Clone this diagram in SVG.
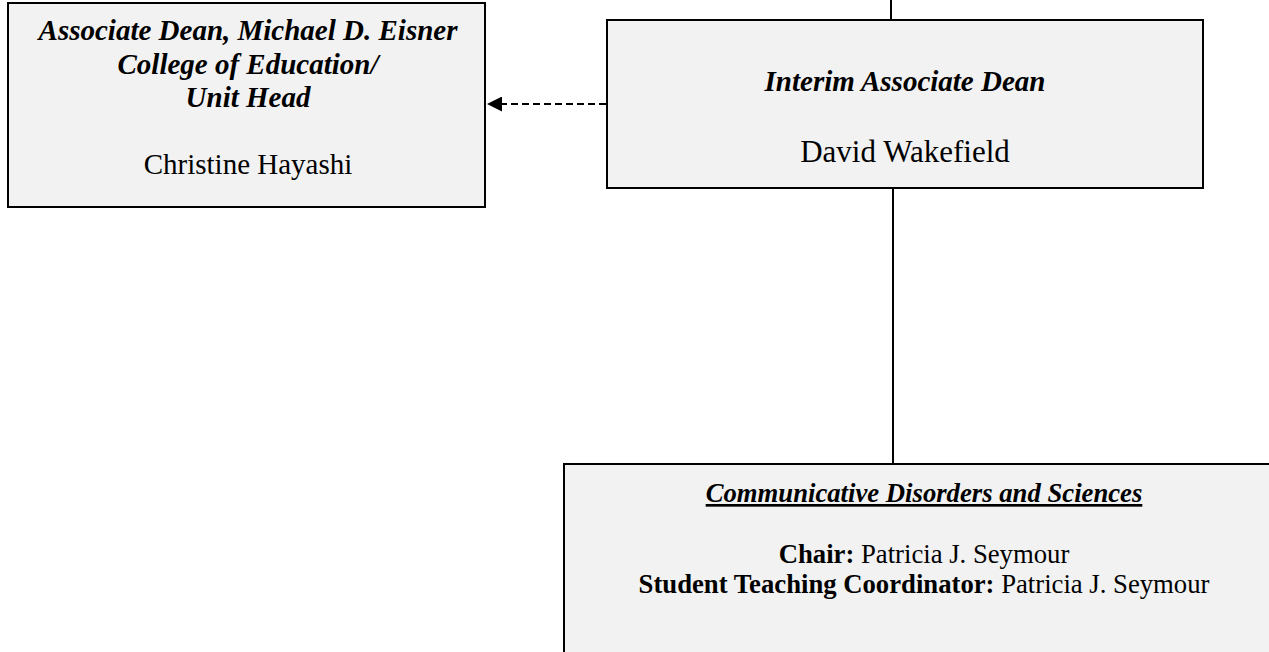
<svg xmlns="http://www.w3.org/2000/svg" width="1269" height="652" viewBox="0 0 1269 652">
<style>
.box{fill:#f2f2f2;stroke:#000;stroke-width:2}
.t{font-family:"Liberation Serif","Times New Roman",serif;fill:#000;text-anchor:middle}
.bi{font-weight:bold;font-style:italic}
.b{font-weight:bold}
.ln{stroke:#000;stroke-width:2;fill:none}
.dash{stroke:#000;stroke-width:2;stroke-dasharray:7,4;fill:none}
</style>
<defs>
<marker id="arr" markerWidth="15" markerHeight="15" refX="15" refY="7.5" orient="auto" markerUnits="userSpaceOnUse">
<path d="M0,0 L15,7.5 L0,15 Z" fill="#000"/>
</marker>
</defs>
<rect width="1269" height="652" fill="#fff"/>
<g id="connectors">
<line class="ln" x1="891" y1="0" x2="891" y2="20"/>
<line class="ln" x1="893" y1="188" x2="893" y2="464"/>
<line class="dash" x1="606" y1="104" x2="487" y2="104" marker-end="url(#arr)"/>
</g>
<g id="node-associate-dean">
<rect class="box" x="8" y="3" width="477" height="204"/>
<text class="t bi" x="248" y="40" font-size="29">Associate Dean, Michael D. Eisner</text>
<text class="t bi" x="248" y="73.5" font-size="29">College of Education/</text>
<text class="t bi" x="248" y="107" font-size="29">Unit Head</text>
<text class="t" x="248" y="174" font-size="29">Christine Hayashi</text>
</g>
<g id="node-interim-dean">
<rect class="box" x="607" y="20" width="596" height="168"/>
<text class="t bi" x="905" y="91" font-size="29">Interim Associate Dean</text>
<text class="t" x="905" y="162" font-size="31">David Wakefield</text>
</g>
<g id="node-cds">
<rect class="box" x="564" y="464" width="730" height="220"/>
<text class="t bi" x="924" y="502" font-size="26.7" text-decoration="underline">Communicative Disorders and Sciences</text>
<text class="t" x="924" y="563" font-size="26.7"><tspan class="b">Chair:</tspan> Patricia J. Seymour</text>
<text class="t" x="924" y="593" font-size="26.7"><tspan class="b">Student Teaching Coordinator:</tspan> Patricia J. Seymour</text>
</g>
</svg>
